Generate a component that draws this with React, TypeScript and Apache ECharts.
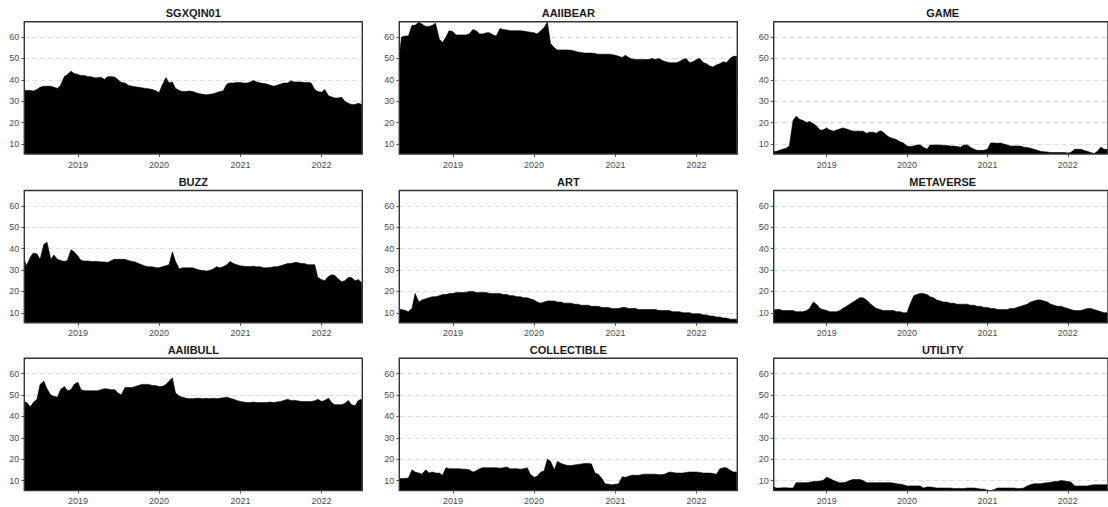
import { useEffect, useRef } from "react";
import * as echarts from "echarts";

const PANELS = ["SGXQIN01", "AAIIBEAR", "GAME", "BUZZ", "ART", "METAVERSE", "AAIIBULL", "COLLECTIBLE", "UTILITY"];
const YEAR_TICKS = ["2019-01-01", "2020-01-01", "2021-01-01", "2022-01-01"];
const Y_TICKS = [10, 20, 30, 40, 50, 60];
const X_MIN = "2018-05-05";
const X_MAX = "2022-07-03";
const Y_MIN = 5.3;
const Y_MAX = 67.2;

// semi-monthly sample dates (1st and 15th) from 2018-05-01 to 2022-07-01
const DATES: string[] = [];
for (let y = 2018; y <= 2022; y++) {
  for (let m = 1; m <= 12; m++) {
    if (y === 2018 && m < 5) continue;
    if (y === 2022 && m > 7) continue;
    const mm = String(m).padStart(2, "0");
    DATES.push(`${y}-${mm}-01`);
    if (!(y === 2022 && m === 7)) DATES.push(`${y}-${mm}-15`);
  }
}

const SGXQIN01 = [35, 35, 35, 34.8, 35.5, 36.5, 37, 37, 37, 36.5, 36, 37.5, 41.5, 42.5, 44, 43, 42.5, 42, 42, 41.5, 41.5, 41, 41, 41.2, 40.2, 41.5, 41.5, 41.3, 40, 38.8, 38.5, 37.5, 37, 36.8, 36.5, 36.3, 36, 35.8, 35.5, 35, 34, 37.5, 41, 38.5, 39, 36, 35, 34.5, 34.5, 34.8, 34.5, 34, 33.5, 33.2, 33, 33.2, 33.5, 34, 34.5, 34.8, 38, 38.5, 38.5, 38.8, 38.8, 38.5, 38.5, 39, 39.7, 39, 38.5, 38.3, 38, 37.5, 37, 37.5, 38, 38.5, 38.5, 39.5, 39, 39, 39, 38.8, 38.8, 38.5, 35.5, 34.5, 34.2, 35.5, 32.5, 32, 31.5, 31.5, 31.8, 30, 29, 28.5, 28.5, 29, 28.5];
const AAIIBEAR = [48, 60, 60.5, 60.5, 65.5, 65.5, 67, 66, 65, 65, 65.5, 66.5, 59, 57.5, 60, 63, 62.5, 61, 61, 61, 61, 61.5, 63.5, 63, 61.5, 61.5, 62, 62, 61, 60.5, 64, 63.5, 63.3, 63, 63, 63, 63, 62.8, 62.5, 62.3, 62, 61.5, 63, 64.5, 67, 57, 55, 54, 54, 54, 54, 53.8, 53.5, 53, 52.8, 52.5, 52.5, 52.5, 52.3, 52, 52, 52, 52, 51.8, 51.5, 51, 50.5, 51.5, 50.5, 49.8, 49.5, 49.5, 49.5, 49.5, 49.5, 50, 49.5, 50, 49, 48.5, 48, 48, 48, 48.5, 49.5, 50, 48, 48.5, 49.5, 50, 48, 47.5, 46.5, 46, 47, 47.5, 48.5, 48, 50, 51, 51];
const GAME = [6.5, 6.5, 7, 7.5, 8, 9, 21, 23, 21.5, 21, 20, 20.5, 19.5, 18.5, 16.5, 16.5, 17.5, 16.5, 16, 16.5, 17, 17.5, 17, 16.5, 16, 16, 16, 16, 15, 15.5, 15.5, 15, 16.2, 15.5, 14, 13, 12.5, 12, 11, 10.5, 9, 8.8, 9, 9.5, 9.5, 8.5, 7.5, 9.5, 9.5, 9.5, 9.5, 9.3, 9.3, 9, 9, 8.8, 8.5, 9.5, 9.5, 8.5, 7.5, 7, 7, 7, 7.5, 10.5, 10.5, 10.3, 10.5, 10, 9.5, 9, 9, 9, 9, 8.5, 8.3, 8, 7.5, 7, 6.5, 6.3, 6.2, 6, 6, 6, 6, 6, 5.8, 6, 7.5, 7.5, 7.5, 7, 6.5, 6, 5.5, 6.5, 8.5, 7.5, 7.5];
const BUZZ = [36, 32, 36, 38, 37.5, 35, 42, 43, 35, 37, 35, 34.5, 34, 34.5, 39.5, 38.5, 36.5, 34.5, 34.2, 34.2, 34, 34, 34, 33.8, 33.8, 33.5, 34.5, 35, 35, 35, 35, 34.5, 34, 33.8, 33, 32.5, 31.8, 31.5, 31.5, 31.2, 31, 31.5, 32, 32.5, 38.5, 34, 30.5, 31, 31, 31, 31, 30.5, 30, 29.8, 29.5, 29.8, 30.5, 31.5, 31, 31.5, 32.5, 34, 33, 32.5, 32, 31.8, 31.6, 31.6, 31.8, 31.5, 31.5, 31, 31, 31.2, 31.5, 31.5, 32, 32.5, 33, 33, 33.5, 33.5, 33, 33, 32.5, 32.5, 32.5, 26.5, 25.5, 25, 27, 27.8, 27.5, 26, 24.5, 25, 26.5, 26.5, 25, 25.5, 24];
const ART = [11.5, 11.5, 11, 10.5, 12, 19, 15, 16, 16.5, 17, 17.5, 17.5, 18, 18.5, 18.5, 19, 19, 19.5, 19.5, 19.5, 19.5, 20, 20, 19.5, 19.5, 19.5, 19.5, 19, 19, 19, 19, 18.5, 18.5, 18, 18, 17.5, 17.5, 17, 17, 16.5, 16, 15, 14.5, 15, 15.5, 15.5, 15.5, 15, 15, 14.5, 14.5, 14.5, 14, 14, 13.5, 13.5, 13.5, 13, 13, 13, 12.5, 12.5, 12.5, 12, 12, 12, 12.5, 12.5, 12, 12, 12, 11.5, 11.5, 11.5, 11.5, 11.5, 11.5, 11, 11, 11, 11, 10.5, 10.5, 10.5, 10, 10, 10, 9.5, 9.5, 9.5, 9, 9, 8.5, 8.5, 8, 8, 7.5, 7.5, 7, 7, 7];
const METAVERSE = [11, 11.5, 11.5, 11, 11, 11, 11, 10.5, 10.5, 10.5, 11, 12, 15, 14, 12, 11.5, 11, 10.5, 10.5, 10.5, 11, 12, 13, 14, 15, 16, 17, 17, 16, 14.5, 13, 12, 11.5, 11, 11, 11, 11, 10.5, 10.5, 10, 10, 14, 18, 18.5, 19, 19, 18.5, 17.5, 17, 16, 15.5, 15, 15, 14.5, 14.5, 14, 14, 14, 14, 13.5, 13.5, 13, 13, 12.5, 12.5, 12, 12, 11.5, 11.5, 11.5, 11.5, 12, 12, 12.5, 13, 13.5, 14, 15, 15.5, 16, 16, 15.5, 15, 14, 13.5, 13, 13, 12.5, 12, 11.5, 11, 11, 11, 11.5, 12, 12, 11.5, 11, 10.5, 10, 10];
const AAIIBULL = [47, 46.5, 44.5, 46.5, 48, 55, 56.5, 53, 50, 49.5, 49, 52.5, 54, 52, 52.5, 55, 56, 52.5, 52, 52, 52, 52, 52, 52.5, 53, 52.8, 52.5, 52.5, 51, 50, 53.5, 53.5, 53.5, 54, 54.5, 55, 55, 55, 54.5, 54.5, 54, 54, 55, 56.5, 58, 51, 49.5, 49, 48.5, 48.3, 48.3, 48.5, 48.5, 48.3, 48.5, 48.3, 48.5, 48.3, 48.5, 48.7, 49, 48.5, 48, 47.5, 47, 46.7, 46.5, 46.5, 46.7, 46.5, 46.5, 46.5, 46.5, 46.7, 46.5, 46.8, 47, 47.5, 48, 47.5, 47.5, 47.3, 47, 47, 47, 47, 47.3, 48, 47, 47.5, 48.5, 46.5, 45.5, 45.5, 45.5, 46, 47.5, 45.5, 45, 47.5, 48];
const COLLECTIBLE = [11, 11, 11, 11.2, 15, 14, 13.5, 13, 15, 13.5, 14, 13.5, 13.5, 12.5, 16, 15.5, 15.5, 15.5, 15.5, 15.3, 15.3, 15, 14, 14.5, 15.5, 16, 16, 16, 16, 16, 15.8, 16, 16.3, 15.5, 15.5, 15.5, 15.3, 15.5, 16, 13, 11.5, 12, 14, 14.5, 20, 19, 15, 19, 18, 17.5, 17, 17, 17.3, 17.5, 17.8, 18, 18, 17.8, 13.5, 13, 11, 8.5, 8.3, 8, 8.3, 8.5, 11.8, 11.5, 12, 12.5, 12.5, 12.5, 12.8, 13, 13, 13, 13, 12.7, 12.8, 13.2, 14, 13.8, 13.5, 13.5, 13.5, 13.8, 14, 14, 14, 13.8, 13.5, 13.5, 13.5, 13.3, 13, 15.5, 16, 16, 14.8, 14, 14];
const UTILITY = [7.5, 6.5, 6.5, 6.6, 6.6, 6.5, 6.5, 9, 9, 9, 9, 9.2, 9.5, 9.5, 9.8, 10, 11.5, 11, 10, 9.5, 9, 9, 9.3, 10, 10.5, 10.5, 10.5, 10, 9, 9, 9, 9, 9, 9, 9, 9, 8.8, 8.5, 8.3, 8, 7.5, 7.5, 7.5, 7.5, 7.5, 6.5, 7, 7, 6.8, 6.5, 6.5, 6.5, 6.5, 6.5, 6.3, 6.3, 6.3, 6.3, 6.5, 6.5, 6.5, 6.3, 6, 6, 5.5, 5.2, 5.8, 6.5, 6.5, 6.5, 6.5, 6.5, 6.5, 6.3, 6.3, 6.5, 7.5, 8, 8.5, 8.5, 8.5, 8.8, 9, 9.2, 9.5, 9.5, 10, 9.8, 9.5, 9.3, 7.5, 7.5, 7.5, 7.5, 7.5, 7.8, 8, 8, 8, 8, 8];

const SERIES_VALUES = [SGXQIN01, AAIIBEAR, GAME, BUZZ, ART, METAVERSE, AAIIBULL, COLLECTIBLE, UTILITY];

const FONT = '"Liberation Sans", Arial, Helvetica, sans-serif';
const COL_LEFT = [24.3, 399.3, 773.7];
const ROW_TOP = [21.7, 190.5, 358.3];
const PW = 338;
const PH = 132.3;

const ts = (d: string) => Date.UTC(+d.slice(0, 4), +d.slice(5, 7) - 1, +d.slice(8, 10));

export default function App() {
  const ref = useRef<HTMLDivElement>(null);
  useEffect(() => {
    if (!ref.current) return;
    const chart = echarts.init(ref.current, null, { renderer: "svg" });
    const yearTs = YEAR_TICKS.map(ts);
    const grids: any[] = [];
    const xAxes: any[] = [];
    const yAxes: any[] = [];
    const series: any[] = [];
    const texts: any[] = [];
    PANELS.forEach((name, i) => {
      const r = Math.floor(i / 3);
      const c = i % 3;
      grids.push({
        left: COL_LEFT[c],
        top: ROW_TOP[r],
        width: PW,
        height: PH,
        show: true,
        borderColor: "#333333",
        borderWidth: 1.4,
        backgroundColor: "transparent",
        containLabel: false,
        z: 5,
      });
      xAxes.push({
        type: "value",
        gridIndex: i,
        min: ts(X_MIN),
        max: ts(X_MAX),
        axisLine: { show: false },
        splitLine: { show: false },
        axisTick: { show: true, customValues: yearTs, length: 3, lineStyle: { color: "#333333", width: 0.8 } },
        axisLabel: {
          show: true,
          customValues: yearTs,
          formatter: (v: number) => String(new Date(v).getUTCFullYear()),
          fontSize: 9,
          fontFamily: FONT,
          color: "#4d4d4d",
          margin: 6,
        },
      });
      yAxes.push({
        type: "value",
        gridIndex: i,
        min: Y_MIN,
        max: Y_MAX,
        axisLine: { show: false },
        axisTick: { show: true, customValues: Y_TICKS, length: 3, lineStyle: { color: "#333333", width: 0.8 } },
        axisLabel: {
          show: true,
          customValues: Y_TICKS,
          fontSize: 9,
          fontFamily: FONT,
          color: "#4d4d4d",
          margin: 5,
        },
        splitLine: { show: true, lineStyle: { color: "#d6d6d6", width: 0.8, type: [5, 3] } },
      });
      const vals = SERIES_VALUES[i];
      series.push({
        type: "line",
        xAxisIndex: i,
        yAxisIndex: i,
        data: DATES.map((d, k) => [ts(d), vals[k]]),
        showSymbol: false,
        symbol: "none",
        smooth: false,
        clip: true,
        lineStyle: { color: "#000000", width: 0.6 },
        areaStyle: { color: "#000000", opacity: 1, origin: "start" },
        silent: true,
      });
      texts.push({
        type: "text",
        x: COL_LEFT[c] + PW / 2,
        y: ROW_TOP[r] - 8.3,
        style: {
          text: name,
          fill: "#1a1a1a",
          font: `bold 11px ${FONT}`,
          textAlign: "center",
          textVerticalAlign: "middle",
        },
      });
    });
    chart.setOption({
      animation: false,
      backgroundColor: "#ffffff",
      grid: grids,
      xAxis: xAxes,
      yAxis: yAxes,
      series,
      graphic: { elements: texts },
    });
    return () => chart.dispose();
  }, []);
  return <div ref={ref} style={{ position: "fixed", left: 0, top: 0, width: 1108, height: 507 }} />;
}
